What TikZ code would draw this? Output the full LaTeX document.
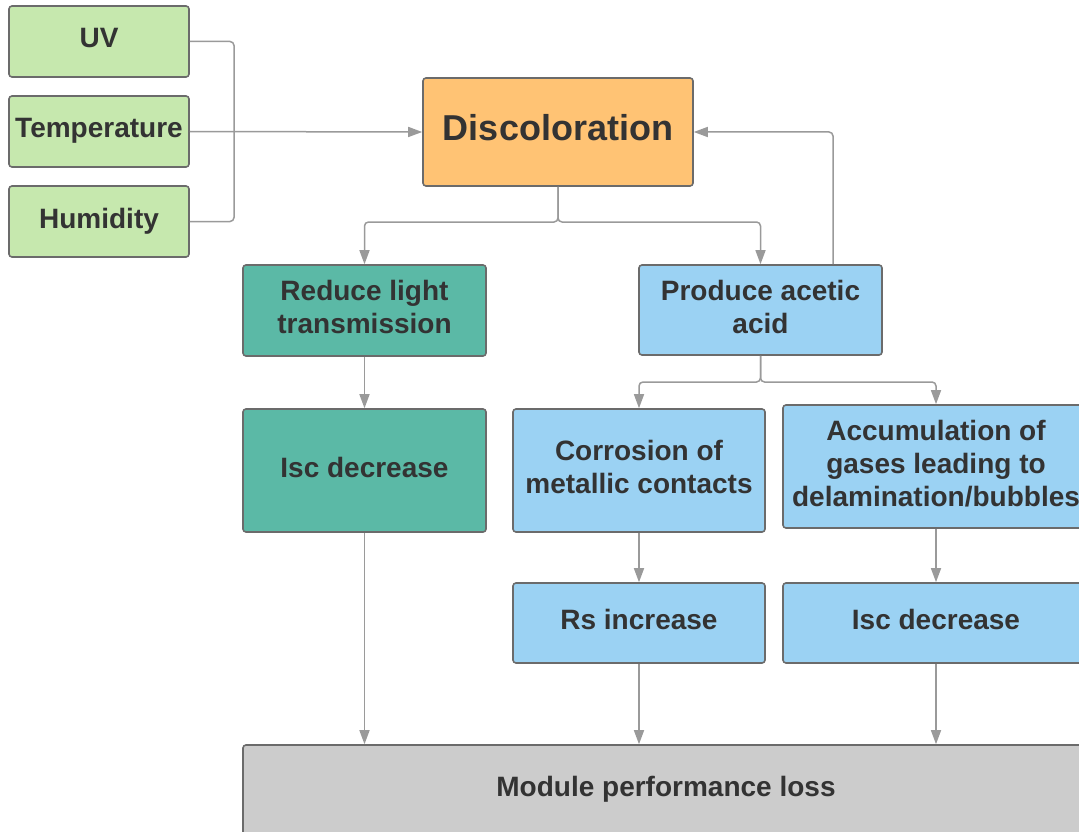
\documentclass[tikz,border=0pt]{standalone}
\usepackage{fontspec}
\setmainfont{Liberation Sans}
\usetikzlibrary{arrows.meta}

\definecolor{boxline}{HTML}{6B6B6B}
\definecolor{linkgray}{HTML}{9A9A9A}
\definecolor{txtgray}{HTML}{333333}
\definecolor{envgreen}{HTML}{C6E8AE}
\definecolor{discorange}{HTML}{FFC374}
\definecolor{lightteal}{HTML}{5BB9A6}
\definecolor{acidblue}{HTML}{9BD2F3}
\definecolor{lossgray}{HTML}{CCCCCC}

\tikzset{
  box/.style={draw=boxline, line width=1.6pt, rounded corners=3pt, align=center,
    inner sep=0pt, text=txtgray, text depth=7pt, font=\fontsize{28}{33}\selectfont\bfseries},
  factor/.style={box, fill=envgreen, minimum width=180pt, minimum height=71pt},
  effect/.style={box, fill=lightteal},
  acid/.style={box, fill=acidblue},
  link/.style={draw=linkgray, line width=1.5pt, rounded corners=4pt},
  arrow/.style={link, -{Triangle[width=10pt,length=14pt]}},
}

\begin{document}
\begin{tikzpicture}[x=1pt, y=-1pt]
            % Page frame
            \useasboundingbox (0,0) rectangle (1079,832);
            \fill[white] (0,0) rectangle (1079,832);
            \clip (0,0) rectangle (1079,832);

            % Stress factors
            \node[factor] (uv) at (99,41.5) {UV};
            \node[factor] (temp) at (99,131.5) {Temperature};
            \node[factor] (hum) at (99,221.5) {Humidity};

            % Main degradation mode
            \node[box, fill=discorange, minimum width=270pt, minimum height=108pt, text depth=10pt,
              font=\fontsize{36}{40}\selectfont\bfseries] (disc) at (558,132) {Discoloration};

            % First consequences
            \node[effect, minimum width=243pt, minimum height=91pt] (reduce) at (364.5,310.5) {Reduce light\\transmission};
            \node[acid, minimum width=243pt, minimum height=90pt] (produce) at (760.5,310) {Produce acetic\\acid};

            % Second level
            \node[effect, minimum width=243pt, minimum height=123pt] (iscA) at (364.5,470.5) {Isc decrease};
            \node[acid, minimum width=252pt, minimum height=123pt] (corr) at (639,470.5) {Corrosion of\\metallic contacts};
            \node[acid, minimum width=306pt, minimum height=123pt] (accum) at (936,466.5) {Accumulation of\\gases leading to\\delamination/bubbles};

            % Electrical effects
            \node[acid, minimum width=252pt, minimum height=80pt] (rs) at (639,623) {Rs increase};
            \node[acid, minimum width=306pt, minimum height=80pt] (iscB) at (936,623) {Isc decrease};

            % Final outcome
            \node[box, fill=lossgray, minimum width=846pt, minimum height=94pt, text depth=11pt] (loss) at (666,792) {Module performance loss};

            % Factors merge into discoloration
            \coordinate (merge) at (234,131.5);
            \draw[link] (uv.east) -| (merge);
            \draw[link] (hum.east) -| (merge);
            \draw[arrow] (temp.east) -- (disc.west);

            % Discoloration branches
            \coordinate (split) at (558,222);
            \draw[arrow] (disc.south) -- (split) -| (reduce.north);
            \draw[arrow] (disc.south) -- (split) -| (produce.north);

            % Acetic acid feeds back
            \draw[arrow] ([xshift=72.5pt]produce.north) |- (disc.east);

            \draw[arrow] (reduce.south) -- (iscA.north);

            \coordinate (fork) at (760.5,382);
            \draw[arrow] (produce.south) -- (fork) -| (corr.north);
            \draw[arrow] (produce.south) -- (fork) -| (accum.north);

            \draw[arrow] (corr.south) -- (rs.north);
            \draw[arrow] (accum.south) -- (iscB.north);

            % Everything ends in performance loss
            \draw[arrow] (iscA.south) -- (iscA.south |- loss.north);
            \draw[arrow] (rs.south) -- (rs.south |- loss.north);
            \draw[arrow] (iscB.south) -- (iscB.south |- loss.north);
        \end{tikzpicture}
\end{document}
